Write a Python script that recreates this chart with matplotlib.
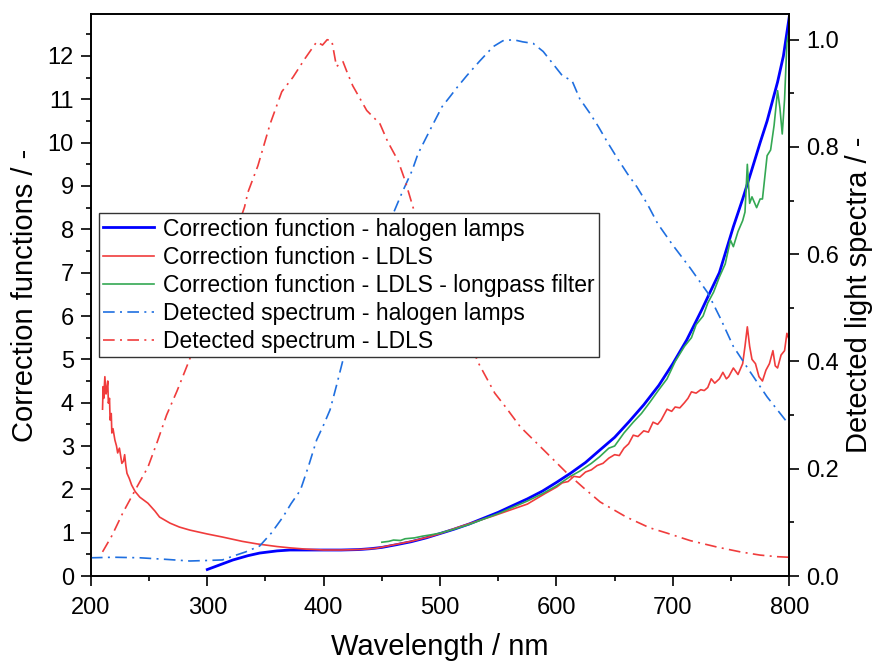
import matplotlib
matplotlib.use("Agg")
import matplotlib.pyplot as plt
from matplotlib.ticker import MultipleLocator

plt.rcParams["font.family"] = ["Liberation Sans", "DejaVu Sans"]

# ── Data ────────────────────────────────────────────────────────────────────
# correction function, halogen lamps (left axis)
wl_halo = [300, 310, 322, 335, 345, 360, 371, 385, 400, 415, 430, 440, 450, 462, 475,
           488, 500, 512, 525, 537, 550, 562, 575, 588, 600, 612, 625, 637, 650, 662,
           675, 688, 700, 712, 725, 732, 740, 752, 760, 767, 775, 781, 790, 795, 800]
cf_halo = [0.15, 0.25, 0.37, 0.47, 0.53, 0.58, 0.60, 0.60, 0.60, 0.60, 0.61, 0.63, 0.66, 0.72, 0.79,
           0.88, 0.98, 1.08, 1.20, 1.33, 1.47, 1.62, 1.78, 1.96, 2.16, 2.37, 2.62, 2.90, 3.20, 3.55,
           3.95, 4.40, 4.90, 5.45, 6.15, 6.55, 7.00, 8.06, 8.70, 9.30, 10.0, 10.5, 11.4, 12.0, 12.9]

# correction function, LDLS (left axis)
wl_ldls = [210, 210.5, 211, 212, 213, 213.6, 214.5, 215, 216, 216.5, 217.5, 218, 219, 220.6,
           222, 223, 224.5, 226.6, 228, 229, 230, 231, 233, 235, 238, 242, 249, 255, 259,
           268, 276, 285, 300, 313, 330, 343, 360, 371, 385, 400, 415, 430, 445, 460,
           475, 490, 500, 515, 530, 545, 560, 575, 590, 600, 605, 610, 615, 620, 625, 630,
           635, 640, 645, 650, 654, 658, 662, 666, 670, 675, 679, 683, 687, 690, 695, 699,
           702, 706, 710, 713, 716, 720, 724, 727, 730, 733, 736, 740, 743, 746, 748, 752,
           756, 760, 762, 764, 766, 768, 771, 774, 777, 780, 783, 786, 788, 790, 793,
           796, 798, 800]
cf_ldls = [3.85, 4.37, 4.10, 4.60, 4.20, 4.29, 4.50, 3.99, 4.10, 3.60, 3.75, 3.30, 3.40, 3.14,
           3.00, 2.84, 2.95, 2.60, 2.65, 2.80, 2.55, 2.37, 2.25, 2.10, 1.95, 1.82, 1.68, 1.50, 1.36,
           1.22, 1.13, 1.06, 0.97, 0.90, 0.80, 0.74, 0.68, 0.65, 0.62, 0.60, 0.60, 0.61, 0.64, 0.72,
           0.80, 0.90, 0.98, 1.12, 1.25, 1.38, 1.52, 1.66, 1.90, 2.05, 2.15, 2.18, 2.30, 2.28, 2.40, 2.45,
           2.55, 2.60, 2.72, 2.80, 2.78, 2.95, 3.05, 3.25, 3.22, 3.35, 3.32, 3.55, 3.50, 3.60, 3.85, 3.80,
           3.90, 3.88, 4.00, 4.10, 4.25, 4.22, 4.30, 4.28, 4.35, 4.55, 4.45, 4.55, 4.70, 4.55, 4.60, 4.80,
           4.65, 4.90, 5.30, 5.75, 5.30, 5.00, 4.90, 4.60, 4.50, 4.75, 4.90, 5.20, 4.85, 4.80, 5.10,
           5.20, 5.60, 5.45]

# correction function, LDLS with longpass filter (left axis)
wl_lp = [450, 456, 460, 466, 470, 478, 485, 492, 500, 512, 525, 537, 550, 562, 575, 588,
         600, 612, 620, 630, 637, 645, 650, 658, 666, 673, 680, 688, 695, 702, 710, 716,
         720, 726, 730, 735, 740, 745, 749.5, 752, 756, 760, 762, 764, 766, 768, 772, 775,
         777, 781, 784, 787, 790, 792, 794, 796, 798, 800]
cf_lp = [0.78, 0.80, 0.83, 0.82, 0.86, 0.88, 0.92, 0.95, 0.99, 1.08, 1.19, 1.31, 1.44, 1.58, 1.73, 1.90,
         2.08, 2.30, 2.42, 2.60, 2.75, 2.95, 3.00, 3.30, 3.55, 3.75, 4.00, 4.30, 4.55, 4.95, 5.30, 5.50,
         5.80, 6.00, 6.30, 6.55, 6.90, 7.20, 7.75, 7.60, 7.95, 8.20, 8.40, 9.50, 8.60, 8.75, 8.50, 8.70,
         8.70, 9.70, 9.83, 10.4, 11.2, 10.8, 10.2, 11.0, 12.3, 12.6]

# detected spectrum, halogen lamps (right axis)
wl_dhalo = [200, 220, 242, 265, 285, 300, 313, 322, 333, 345, 355, 365, 372, 380, 387,
            394, 400, 405.5, 411, 416.6, 430, 445, 459.6, 467, 476, 481, 491, 501.7, 508.6,
            515, 523, 534, 545.6, 554, 563, 571, 580, 588.6, 597, 605, 613.5, 620, 629,
            636, 643.5, 652, 661, 669, 678, 687, 699.6, 715, 730, 741, 752, 766, 781, 797, 800]
dt_halo = [0.034, 0.035, 0.034, 0.031, 0.028, 0.029, 0.030, 0.037, 0.045, 0.056, 0.080, 0.110, 0.135, 0.160, 0.205,
           0.254, 0.282, 0.310, 0.355, 0.403, 0.500, 0.600, 0.675, 0.713, 0.756, 0.787, 0.830, 0.875, 0.894,
           0.912, 0.933, 0.960, 0.987, 0.998, 1.000, 0.996, 0.993, 0.978, 0.955, 0.933, 0.923, 0.890, 0.862,
           0.838, 0.810, 0.780, 0.750, 0.726, 0.694, 0.657, 0.618, 0.574, 0.528, 0.480, 0.428, 0.382, 0.334, 0.290, 0.283]

# detected spectrum, LDLS (right axis)
wl_dldls = [210, 218, 227.5, 238, 249, 257, 265, 274, 283, 300, 315, 332, 335, 343.5, 354,
            364, 373.6, 384, 394, 399, 403, 407, 411, 416.6, 420, 425, 437, 448.4, 455, 464,
            470, 478.5, 500, 515, 533, 547, 556, 569, 583, 596, 609, 623, 637.6, 660, 680,
            695, 715, 738, 758, 775, 790, 800]
dt_ldls = [0.045, 0.075, 0.118, 0.160, 0.203, 0.250, 0.300, 0.345, 0.394, 0.490, 0.580, 0.688, 0.716, 0.765, 0.843,
           0.903, 0.930, 0.965, 0.996, 0.990, 1.000, 0.998, 0.950, 0.959, 0.940, 0.914, 0.868, 0.843, 0.810, 0.774,
           0.737, 0.675, 0.570, 0.490, 0.397, 0.341, 0.316, 0.278, 0.248, 0.220, 0.192, 0.165, 0.138, 0.110, 0.090,
           0.080, 0.066, 0.054, 0.045, 0.039, 0.036, 0.035]

# ── Plot ────────────────────────────────────────────────────────────────────
fig = plt.figure(figsize=(8.74, 6.64), dpi=100)
ax = fig.add_axes([0.104, 0.1325, 0.799, 0.8465])
ax2 = ax.twinx()

c_blue = "#0000FF"
c_red = "#F03C3C"
c_green = "#34A853"
c_lblue = "#1F6FE0"
dd = (7, 3.2, 1.2, 3.2)

l1, = ax.plot(wl_halo, cf_halo, color=c_blue, lw=2.0, label="Correction function - halogen lamps")
l2, = ax.plot(wl_ldls, cf_ldls, color=c_red, lw=1.2, label="Correction function - LDLS")
l3, = ax.plot(wl_lp, cf_lp, color=c_green, lw=1.2, label="Correction function - LDLS - longpass filter")
l4, = ax2.plot(wl_dhalo, dt_halo, color=c_lblue, lw=1.2, dashes=dd, label="Detected spectrum - halogen lamps")
l5, = ax2.plot(wl_dldls, dt_ldls, color=c_red, lw=1.2, dashes=dd, label="Detected spectrum - LDLS")

ax.set_xlim(200, 800)
ax.set_ylim(0, 12.97)
ax2.set_ylim(0, 1.048)

ax.xaxis.set_major_locator(MultipleLocator(100))
ax.xaxis.set_minor_locator(MultipleLocator(50))
ax.yaxis.set_major_locator(MultipleLocator(1))
ax.yaxis.set_minor_locator(MultipleLocator(0.5))
ax2.yaxis.set_major_locator(MultipleLocator(0.2))
ax2.yaxis.set_minor_locator(MultipleLocator(0.1))

for a in (ax, ax2):
    a.tick_params(which="major", direction="out", length=7.2, width=1.2, labelsize=17, pad=5)
    a.tick_params(which="minor", direction="out", length=3.6, width=1.2)
    for s in a.spines.values():
        s.set_linewidth(1.2)
ax.tick_params(top=False, right=False, which="both")
ax.tick_params(axis="x", pad=8)

ax.set_xlabel("Wavelength / nm", fontsize=21, labelpad=10)
ax.set_ylabel("Correction functions / -", fontsize=21, labelpad=6)
ax2.set_ylabel("Detected light spectra / -", fontsize=21, labelpad=4)

leg = ax2.legend(handles=[l1, l2, l3, l4, l5], loc="upper left",
                 bbox_to_anchor=(0.011, 0.646), borderaxespad=0, fontsize=16.5,
                 fancybox=False, framealpha=1, edgecolor="#333333",
                 handlelength=2.2, handletextpad=0.4, labelspacing=0.22, borderpad=0.2)
leg.get_frame().set_linewidth(1.0)

fig.savefig("out.png", dpi=100)
